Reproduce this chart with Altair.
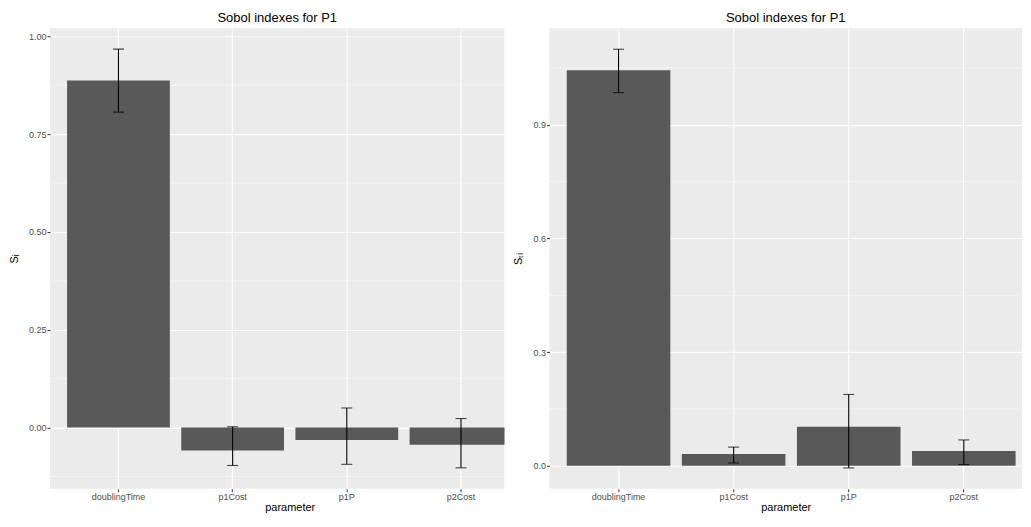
import altair as alt
import pandas as pd

params = ["doublingTime", "p1Cost", "p1P", "p2Cost"]

si = [0.887, -0.059, -0.032, -0.044]
si_low = [0.806, -0.097, -0.094, -0.103]
si_high = [0.967, 0.002, 0.050, 0.023]

sti = [1.044, 0.031, 0.103, 0.0386]
sti_low = [0.985, 0.007, -0.006, 0.003]
sti_high = [1.0995, 0.049, 0.188, 0.068]

left_ticks = [0.0, 0.25, 0.5, 0.75, 1.0]
left_minor = [-0.125, 0.125, 0.375, 0.625, 0.875]
left_domain = [-0.1565, 1.0205]

right_ticks = [0.0, 0.3, 0.6, 0.9]
right_minor = [0.15, 0.45, 0.75, 1.05]
right_domain = [-0.061, 1.155]

FONT = "Liberation Sans"
H = 461


def panel(values, low, high, ticks, minor, domain, ytitle, fmt, width, xs, height):
    df = pd.DataFrame({"parameter": params, "value": values, "low": low, "high": high})
    mdf = pd.DataFrame({"m": minor})
    ys = alt.Scale(domain=domain, nice=False, zero=False)
    xaxis = alt.Axis(title="parameter", labelAngle=0, bandPosition=0.5, domain=False,
                     grid=True, tickBand="center",
                     tickColor="#333333", tickSize=3, labelPadding=1,
                     labelColor="#4D4D4D", labelFontSize=9, labelFont=FONT,
                     titleFont=FONT, titleFontSize=11, titleFontWeight="normal",
                     titleColor="#000000", titlePadding=0,
                     gridColor="#FFFFFF", gridWidth=1.1)
    yaxis = alt.Axis(title=ytitle, values=ticks, format=fmt, domain=False, grid=True,
                     tickColor="#333333", tickSize=3, labelPadding=1,
                     labelColor="#4D4D4D", labelFontSize=9, labelFont=FONT,
                     titleFont=FONT, titleFontSize=11, titleFontWeight="normal",
                     titleColor="#000000", titlePadding=9,
                     gridColor="#FFFFFF", gridWidth=1.1)
    X = alt.X("parameter:N", scale=xs, axis=xaxis, sort=params)
    minor_rules = alt.Chart(mdf).mark_rule(color="#FFFFFF", strokeWidth=0.55).encode(
        y=alt.Y("m:Q", scale=ys, axis=yaxis)
    )
    bars = alt.Chart(df).mark_bar(color="#595959", clip=True).encode(
        x=X,
        y=alt.Y("value:Q", scale=ys, axis=yaxis),
        y2=alt.datum(0),
    )
    rules = alt.Chart(df).mark_rule(color="#000000", strokeWidth=1.1).encode(
        x=X,
        y=alt.Y("low:Q", scale=ys, axis=yaxis),
        y2="high:Q",
    )
    cap_lo = alt.Chart(df).mark_tick(color="#000000", thickness=1.1, size=11, orient="horizontal").encode(
        x=X,
        y=alt.Y("low:Q", scale=ys, axis=yaxis),
    )
    cap_hi = alt.Chart(df).mark_tick(color="#000000", thickness=1.1, size=11, orient="horizontal").encode(
        x=X,
        y=alt.Y("high:Q", scale=ys, axis=yaxis),
    )
    return alt.layer(minor_rules, bars, rules, cap_lo, cap_hi).properties(
        width=width, height=height,
        title=alt.Title("Sobol indexes for P1", font=FONT, fontSize=13,
                        fontWeight="normal", color="#000000", offset=3),
    )


left_xs = alt.Scale(domain=params, range=[0, 480], paddingInner=0.1, paddingOuter=0.15)
right_xs = alt.Scale(domain=params, paddingInner=0.1, paddingOuter=0.103, align=0.73)

left = panel(si, si_low, si_high, left_ticks, left_minor, left_domain,
             "Sᵢ", ".2f", 455, left_xs, H)
right = panel(sti, sti_low, sti_high, right_ticks, right_minor, right_domain,
              "Sₜᵢ", ".1f", 473, right_xs, H)

chart = alt.hconcat(left, right, spacing=-17).configure(
    background="#FFFFFF",
    padding={"left": 0, "top": 4, "right": 0, "bottom": 0},
).configure_view(fill="#EBEBEB", strokeWidth=0)

chart.save("out.html", embed_options={"renderer": "svg", "actions": False})
